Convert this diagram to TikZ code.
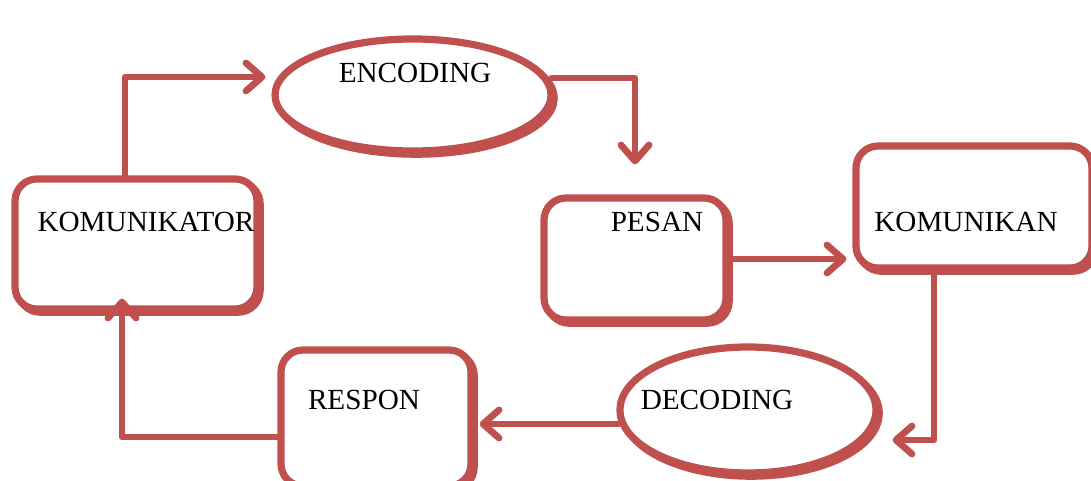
\documentclass[tikz,border=0pt]{standalone}
\usepackage{fontspec}
\setmainfont{Liberation Serif}
\usetikzlibrary{arrows.meta,calc,shapes.geometric,shadows}
\definecolor{accred}{HTML}{C0504D}
\begin{document}
\begin{tikzpicture}[x=0.5pt,y=-0.5pt,
  shp/.style={draw=accred, line width=3.6pt, fill=white,
    general shadow={shadow xshift=1.6pt,shadow yshift=-1.6pt,draw=accred,fill=white,line width=3.6pt}},
  box/.style={shp, rectangle, rounded corners=11pt},
  oval/.style={shp, ellipse},
  lbl/.style={inner sep=0pt, font=\fontsize{14.6}{17}\selectfont},
  arr/.style={draw=accred, line width=3.4pt, line cap=round, line join=round,
    -{Straight Barb[length=8pt,width=14pt,round]}}]
\useasboundingbox (0,0) rectangle (1091,481);

\node[box, minimum width=121pt, minimum height=65pt] (kom) at (136,244) {};
\node[oval, minimum width=138pt, minimum height=56pt] (enc) at (413,95) {};
\node[box, minimum width=91pt, minimum height=61pt] (pes) at (635,259) {};
\node[box, minimum width=118pt, minimum height=61pt] (komn) at (974,207) {};
\node[oval, minimum width=128pt, minimum height=63pt] (dec) at (748,410) {};
\node[box, minimum width=95pt, minimum height=68pt] (res) at (376,418) {};

\node[lbl] (tkom) at (146,222) {KOMUNIKATOR};
\node[lbl] (tenc) at (415,73) {ENCODING};
\node[lbl] (tpes) at (657,222) {PESAN};
\node[lbl] (tkomn) at (966,222) {KOMUNIKAN};
\node[lbl] (tdec) at (717,400) {DECODING};
\node[lbl] (tres) at (364,400) {RESPON};

\draw[arr] ($(kom.north)+(-11,0)$) |- ($(enc.west)+(-6,-18)$);
\draw[arr] ($(enc.east)+(-3,-17)$) -| ($(pes.north)+(0,-30)$);
\draw[arr] (pes.east) -- ($(pes.east -| komn.west)+(-6,0)$);
\draw[arr] ($(komn.south)+(-40,0)$) |- ($(dec.east)+(13,30)$);
\draw[arr] ($(dec.west)+(2,14)$) -- ($(res.east)+(5,6)$);
\draw[arr] ($(res.west)+(0,19)$) -| ($(kom.south)+(-14,-14)$);
\end{tikzpicture}
\end{document}
